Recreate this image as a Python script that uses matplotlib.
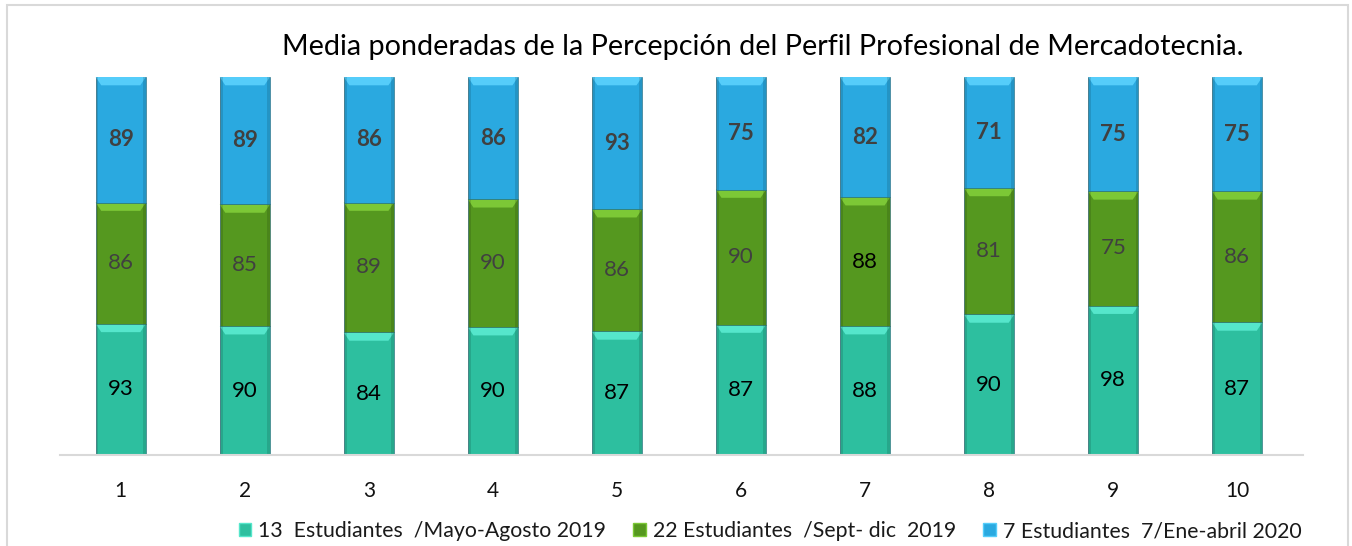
import matplotlib.pyplot as plt
import matplotlib.patches as mpatches
from matplotlib.patches import Polygon, Rectangle
import numpy as np

plt.rcParams['font.family'] = ['Lato', 'DejaVu Sans']

# Data
groups = [1, 2, 3, 4, 5, 6, 7, 8, 9, 10]
mayo_ago_2019 = [93, 90, 84, 90, 87, 87, 88, 90, 98, 87]
sept_dic_2019 = [86, 85, 89, 90, 86, 90, 88, 81, 75, 86]
ene_abr_2020 = [89, 89, 86, 86, 93, 75, 82, 71, 75, 75]
series_labels = ["13  Estudiantes  /Mayo-Agosto 2019",
                 "22 Estudiantes  /Sept- dic  2019",
                 "7 Estudiantes  7/Ene-abril 2020"]
colors = ["#2dbf9f", "#55981f", "#2aa9e0"]
tops = ["#55e6cb", "#7cc836", "#55cdfa"]
label_colors = [["#000000"] * 10,
                ["#404040"] * 6 + ["#000000"] + ["#404040"] * 3,
                ["#404040"] * 10]
label_weights = ["normal", "normal", "bold"]

series = [mayo_ago_2019, sept_dic_2019, ene_abr_2020]
totals = np.sum(series, axis=0)
shares = [np.array(s) / totals for s in series]

fig = plt.figure(figsize=(13.52, 5.46), dpi=100)
# outer chart frame
fig.patches.append(Rectangle((7 / 1352, -0.05), (1348 - 7) / 1352, 1 - 5 / 546 + 0.05,
                             transform=fig.transFigure, fill=False,
                             edgecolor="#d9d9d9", linewidth=1.5))

ax = fig.add_axes([60 / 1352, 1 - 455 / 546, 1243 / 1352, 378 / 546])
x = np.array(groups)
width = 0.405
bottom = np.zeros(len(groups))
for i, sh in enumerate(shares):
    ax.bar(x, sh, width, bottom=bottom, color=colors[i],
           edgecolor="#1d5f70", linewidth=0.4)
    # bevel highlight on top of each segment
    bev_h = 0.022
    bev_w = 0.045
    for xi, b, h in zip(x, bottom, sh):
        t = b + h
        ax.add_patch(Polygon([(xi - width / 2, t), (xi + width / 2, t),
                              (xi + width / 2 - bev_w, t - bev_h),
                              (xi - width / 2 + bev_w, t - bev_h)],
                             closed=True, facecolor=tops[i], edgecolor="none"))
        ax.add_patch(Rectangle((xi - width / 2, b), bev_w * 0.5, h,
                               facecolor="black", alpha=0.12, edgecolor="none"))
        ax.add_patch(Rectangle((xi + width / 2 - bev_w * 0.5, b), bev_w * 0.5, h,
                               facecolor="black", alpha=0.12, edgecolor="none"))
    for j, (xi, b, h) in enumerate(zip(x, bottom, sh)):
        ax.text(xi, b + h / 2, str(series[i][j]), ha="center", va="center",
                fontsize=16, color=label_colors[i][j], fontweight=label_weights[i])
    bottom = bottom + sh

ax.set_xlim(0.51, 10.53)
ax.set_ylim(0, 1)
ax.set_xticks(x)
ax.set_xticklabels([str(g) for g in groups], fontsize=15, color="#111111")
ax.tick_params(axis="x", length=0, pad=19)
ax.set_yticks([])
for s in ["top", "left", "right"]:
    ax.spines[s].set_visible(False)
ax.spines["bottom"].set_color("#d9d9d9")
ax.spines["bottom"].set_linewidth(1.5)

fig.text(763 / 1352, 1 - 47 / 546,
         "Media ponderadas de la Percepción del Perfil Profesional de Mercadotecnia.",
         ha="center", va="center", fontsize=20.7, color="#000000")

handles = [mpatches.Patch(facecolor=colors[i], edgecolor=tops[i], label=series_labels[i])
           for i in range(3)]
fig.legend(handles=handles, loc="center", bbox_to_anchor=(770 / 1352, 1 - 531 / 546),
           ncol=3, frameon=False, fontsize=15.3, handlelength=0.6, handleheight=0.6,
           handletextpad=0.3, columnspacing=1.3, labelcolor="#1a1a1a")

fig.savefig("out.png", dpi=100)
